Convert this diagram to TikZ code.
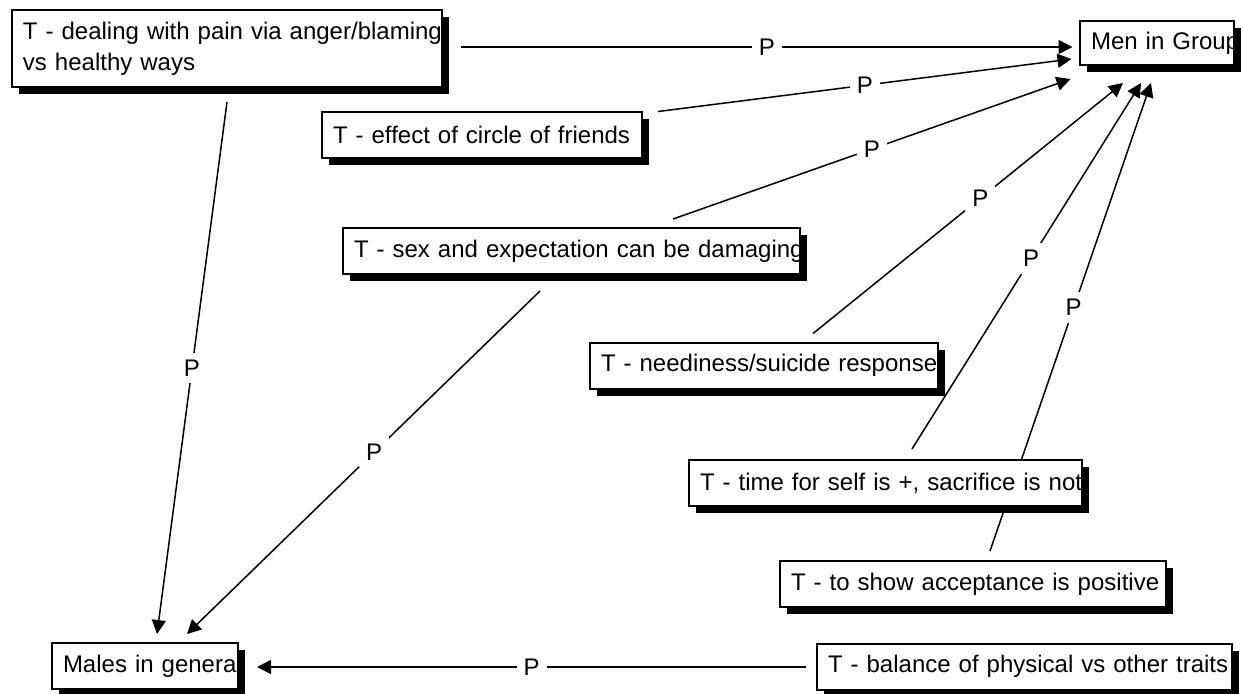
\documentclass[tikz,border=0pt]{standalone}
\usepackage{fontspec}
\setmainfont{Liberation Sans}
\usetikzlibrary{arrows.meta,shadows,backgrounds}

\begin{document}
\begin{tikzpicture}[x=0.5pt,y=-0.5pt,
    every node/.style={font=\fontsize{12}{15.5}\selectfont},
    theme/.style={rectangle,draw,line width=1pt,fill=white,
      drop shadow={shadow xshift=3.5pt,shadow yshift=-3.5pt,opacity=1,fill=black},
      align=left,inner xsep=5.5pt,inner ysep=0pt,minimum height=23pt},
    arrow/.style={-{Triangle[length=7pt,width=7pt]},line width=0.75pt},
    plabel/.style={fill=white,inner sep=3.5pt}]
  \useasboundingbox (0,0) rectangle (1243,693);
  % themes
  \node[theme,text width=204pt,minimum height=38.5pt] (dealing) at (227,48.5)
    {\mbox{T - dealing with pain via anger/blaming}\\vs healthy ways};
  \node[theme,text width=66pt,minimum height=22pt] (men) at (1157,43) {\mbox{Men in Group}};
  \node[theme,text width=149pt] (effect) at (482,134.5) {\mbox{T - effect of circle of friends}};
  \node[theme,text width=217.5pt] (sex) at (571.5,251) {\mbox{T - sex and expectation can be damaging}};
  \node[theme,text width=163pt] (needy) at (764,365.5) {\mbox{T - neediness/suicide response}};
  \node[theme,text width=185.5pt] (selftime) at (885.5,483) {\mbox{T - time for self is +, sacrifice is not}};
  \node[theme,text width=182pt] (accept) at (973,584) {\mbox{T - to show acceptance is positive}};
  \node[theme,text width=196.5pt] (balance) at (1024.5,666.5) {\mbox{T - balance of physical vs other traits}};
  \node[theme,text width=82pt] (males) at (145,666) {\mbox{Males in general}};
  \begin{scope}[on background layer]
  % links to Men in Group
  \draw[arrow] ([shift={(18,-1.5)}]dealing.east) -- node[plabel] {P} ([shift={(-6.5,4)}]men.west);
  \draw[arrow] ([shift={(15,1)}]effect.north east) -- node[plabel] {P} ([shift={(-7.5,16)}]men.west);
  \draw[arrow] ([shift={(101.5,-8)}]sex.north) -- node[plabel] {P} ([shift={(-8.5,13)}]men.south west);
  \draw[arrow] ([shift={(49,-8)}]needy.north) -- node[plabel,pos=0.54] {P} ([shift={(-34,17)}]men.south);
  \draw[arrow] ([shift={(26.5,-10)}]selftime.north) -- node[plabel,pos=0.52] {P} ([shift={(-16,17)}]men.south);
  \draw[arrow] ([shift={(17,-9)}]accept.north) -- node[plabel,pos=0.52] {P} ([shift={(-6,17)}]men.south);
  % links to Males in general
  \draw[arrow] ([shift={(0,14)}]dealing.south) -- node[plabel] {P} ([shift={(12,-8)}]males.north);
  \draw[arrow] ([shift={(-31.5,16)}]sex.south) -- node[plabel,pos=0.47] {P} ([shift={(42,-8)}]males.north);
  \draw[arrow] ([shift={(-10,0.5)}]balance.west) -- node[plabel] {P} ([shift={(18,1)}]males.east);
  \end{scope}
\end{tikzpicture}
\end{document}
